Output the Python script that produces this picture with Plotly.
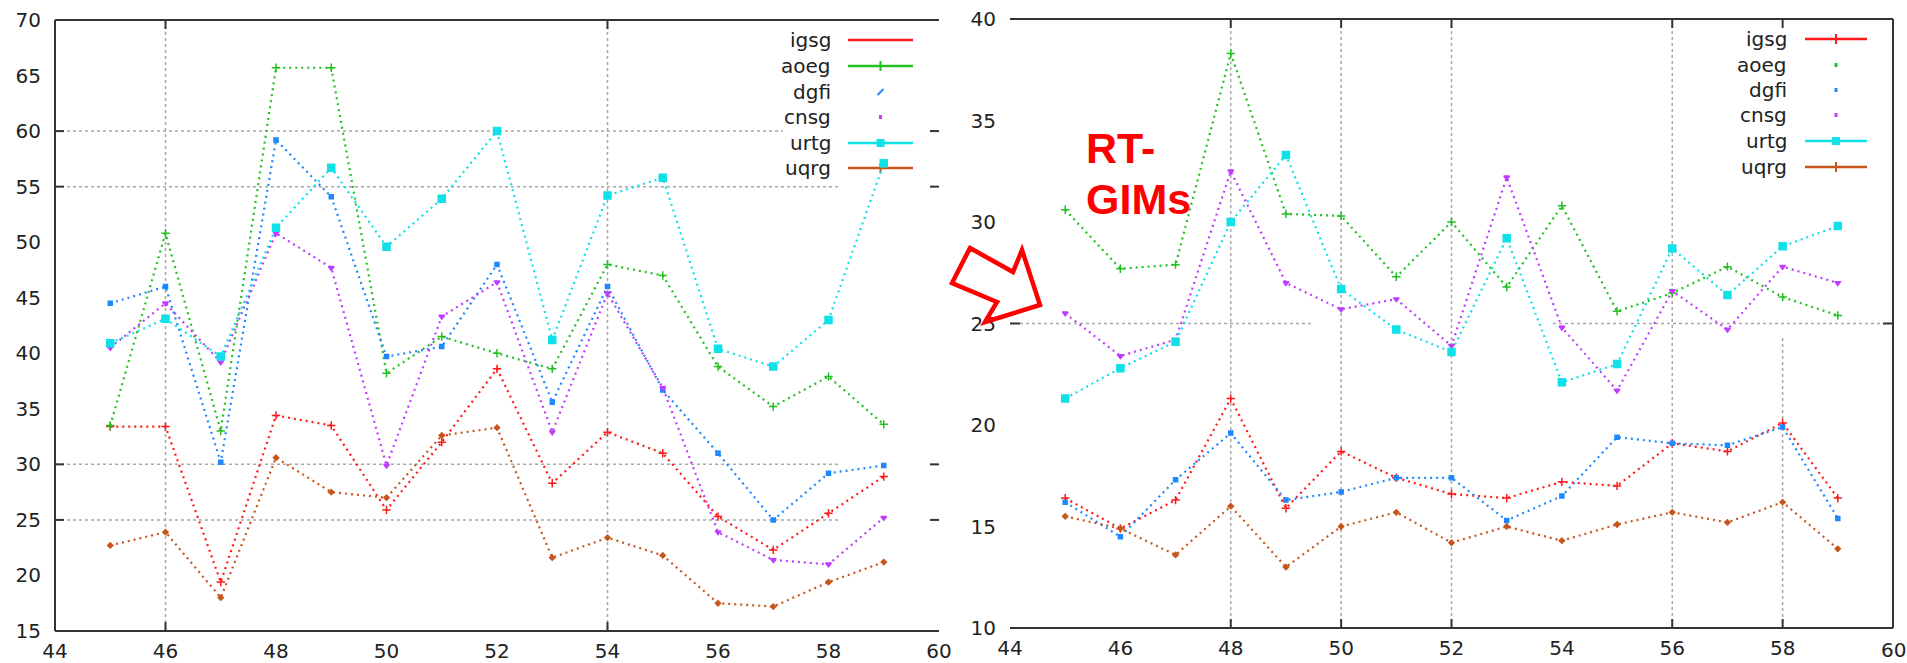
import plotly.graph_objects as go

W, H = 1907, 663

# ---------------- data ----------------
days = [45, 46, 47, 48, 49, 50, 51, 52, 53, 54, 55, 56, 57, 58, 59]
series_names = ["igsg", "aoeg", "dgfi", "cnsg", "urtg", "uqrg"]

# left panel
left_igsg = [33.4, 33.4, 19.4, 34.4, 33.5, 25.9, 32.0, 38.6, 28.3, 32.9, 31.0, 25.3, 22.3, 25.6, 28.9]
left_aoeg = [33.5, 50.8, 33.0, 65.7, 65.7, 38.2, 41.5, 40.0, 38.6, 48.0, 47.0, 38.8, 35.2, 37.9, 33.6]
left_dgfi = [44.5, 46.0, 30.2, 59.2, 54.1, 39.7, 40.6, 48.0, 35.6, 46.0, 36.7, 31.0, 25.0, 29.2, 29.9]
left_cnsg = [40.5, 44.5, 39.2, 50.8, 47.7, 29.9, 43.3, 46.4, 32.9, 45.4, 36.9, 23.9, 21.4, 21.0, 25.2]
left_urtg = [40.9, 43.1, 39.7, 51.3, 56.7, 49.6, 53.9, 60.0, 41.2, 54.2, 55.8, 40.4, 38.8, 43.0, 57.1]
left_uqrg = [22.7, 23.9, 18.0, 30.6, 27.5, 27.0, 32.6, 33.3, 21.6, 23.4, 21.8, 17.5, 17.2, 19.4, 21.2]

# right panel (RT-GIMs)
right_igsg = [16.4, 14.9, 16.3, 21.3, 15.9, 18.7, 17.4, 16.6, 16.4, 17.2, 17.0, 19.1, 18.7, 20.1, 16.4]
right_aoeg = [30.6, 27.7, 27.9, 38.3, 30.4, 30.3, 27.3, 30.0, 26.8, 30.8, 25.6, 26.5, 27.8, 26.3, 25.4]
right_dgfi = [16.2, 14.5, 17.3, 19.6, 16.3, 16.7, 17.4, 17.4, 15.3, 16.5, 19.4, 19.1, 19.0, 19.9, 15.4]
right_cnsg = [25.5, 23.4, 24.2, 32.5, 27.0, 25.7, 26.2, 23.9, 32.2, 24.8, 21.7, 26.6, 24.7, 27.8, 27.0]
right_urtg = [21.3, 22.8, 24.1, 30.0, 33.3, 26.7, 24.7, 23.6, 29.2, 22.1, 23.0, 28.7, 26.4, 28.8, 29.8]
right_uqrg = [15.5, 14.9, 13.6, 16.0, 13.0, 15.0, 15.7, 14.2, 15.0, 14.3, 15.1, 15.7, 15.2, 16.2, 13.9]

x_ticks = [44, 46, 48, 50, 52, 54, 56, 58, 60]
left_y_ticks = [15, 20, 25, 30, 35, 40, 45, 50, 55, 60, 65, 70]
right_y_ticks = [10, 15, 20, 25, 30, 35, 40]
annotation_text = ["RT-", "GIMs"]

# ---------------- styles ----------------
colors = {
    "igsg": "#ff1a1a",
    "aoeg": "#22c022",
    "dgfi": "#2088ff",
    "cnsg": "#c03cff",
    "urtg": "#10e0e8",
    "uqrg": "#c8561c",
}
symbols = {
    "igsg": "cross-thin",
    "aoeg": "cross-thin",
    "dgfi": "square",
    "cnsg": "triangle-down",
    "urtg": "square",
    "uqrg": "diamond",
}
msize = {"igsg": 6, "aoeg": 6, "dgfi": 4, "cnsg": 5, "urtg": 7, "uqrg": 4}


def px(x):
    return x / W


def py(y):
    return 1 - y / H


fig = go.Figure()

left_data = [left_igsg, left_aoeg, left_dgfi, left_cnsg, left_urtg, left_uqrg]
right_data = [right_igsg, right_aoeg, right_dgfi, right_cnsg, right_urtg, right_uqrg]

for name, vals in zip(series_names, left_data):
    fig.add_trace(go.Scatter(
        x=days, y=vals, mode="lines+markers", name=name, showlegend=False,
        xaxis="x", yaxis="y",
        line=dict(color=colors[name], width=2.2, dash="2px,4px"),
        marker=dict(symbol=symbols[name], size=msize[name], color=colors[name],
                    line=dict(color=colors[name], width=1.5)),
    ))
for name, vals in zip(series_names, right_data):
    fig.add_trace(go.Scatter(
        x=days, y=vals, mode="lines+markers", name=name, showlegend=False,
        xaxis="x2", yaxis="y2",
        line=dict(color=colors[name], width=2.2, dash="2px,4px"),
        marker=dict(symbol=symbols[name], size=msize[name], color=colors[name],
                    line=dict(color=colors[name], width=1.5)),
    ))

tickfont = dict(family="DejaVu Sans", size=20, color="#222222")
x_axis_common = dict(showgrid=False, zeroline=False, showline=False, ticks="",
                     tickfont=tickfont, ticklabelstandoff=6, automargin=False)
y_axis_common = dict(showgrid=False, zeroline=False, showline=False, ticks="",
                     tickfont=tickfont, ticklabelstandoff=13, automargin=False)

shapes = []
annotations = []
GRID = dict(color="#a8a8a8", width=1.5, dash="dot")
AX = dict(color="#333333", width=2)


def seg(x0, y0, x1, y1, line):
    shapes.append(dict(type="line", xref="paper", yref="paper",
                       x0=px(x0), y0=py(y0), x1=px(x1), y1=py(y1), line=line, layer="below"))


# ---- left panel frame / grid ----
L_x0, L_x1, L_top, L_bot = 55, 939, 20, 631
seg(L_x0, L_top, L_x1, L_top, AX)
seg(L_x0, L_bot, L_x1, L_bot, AX)
seg(L_x0, L_top, L_x0, L_bot, AX)


def ly(v):
    return L_top + (70 - v) * (L_bot - L_top) / 55.0


def lx(v):
    return L_x0 + (v - 44) * (L_x1 - L_x0) / 16.0


for gx in [46, 54]:
    seg(lx(gx), L_top, lx(gx), L_bot, GRID)
    seg(lx(gx), L_bot, lx(gx), L_bot - 9, AX)
    seg(lx(gx), L_top, lx(gx), L_top + 9, AX)
seg(L_x0, ly(60), 783, ly(60), GRID)
for gv in [55, 30, 25]:
    seg(L_x0, ly(gv), 838, ly(gv), GRID)
for gv in [60, 55, 30, 25]:
    seg(L_x0, ly(gv), L_x0 + 9, ly(gv), AX)
    seg(L_x1 - 9, ly(gv), L_x1, ly(gv), AX)

# ---- right panel frame / grid ----
R_x0, R_x1, R_top, R_bot = 1010, 1893, 19, 628
seg(R_x0, R_top, R_x1, R_top, AX)
seg(R_x0, R_bot, R_x1, R_bot, AX)
seg(R_x1, R_top, R_x1, R_bot, AX)


def ry(v):
    return R_top + (40 - v) * (R_bot - R_top) / 30.0


def rx(v):
    return R_x0 + (v - 44) * (R_x1 - R_x0) / 16.0


for gx in [48, 50, 52, 56]:
    seg(rx(gx), R_top, rx(gx), R_bot, GRID)
seg(rx(58), 338, rx(58), R_bot, GRID)
for gx in [48, 50, 52, 56, 58]:
    seg(rx(gx), R_bot, rx(gx), R_bot - 9, AX)
    seg(rx(gx), R_top, rx(gx), R_top + 9, AX)
seg(R_x0 + 10, ry(25), 1313, ry(25), GRID)
seg(1553, ry(25), R_x1 - 10, ry(25), GRID)
seg(R_x0, ry(25), R_x0 + 10, ry(25), AX)
seg(R_x1 - 10, ry(25), R_x1, ry(25), AX)

# last x label of the right panel sits against the page edge
annotations.append(dict(xref="paper", yref="paper", x=1.0, y=0.0, xanchor="right",
                        yanchor="bottom", text=str(x_ticks[-1]), showarrow=False,
                        font=tickfont, borderpad=0))

# ---- custom legends ----
legfont = dict(family="DejaVu Sans", size=20, color="#222222")


def legend(text_right, s_x0, s_x1, ys, samples):
    for name, yy, kind in zip(series_names, ys, samples):
        annotations.append(dict(xref="paper", yref="paper", x=px(text_right), y=py(yy),
                                xanchor="right", yanchor="middle", text=name,
                                showarrow=False, font=legfont))
        c = colors[name]
        mid = (s_x0 + s_x1) / 2
        if kind in ("line", "line+", "linesq"):
            seg(s_x0, yy, s_x1, yy, dict(color=c, width=2.5))
        if kind == "line+":
            seg(mid, yy - 5, mid, yy + 5, dict(color=c, width=2))
        if kind == "linesq":
            shapes.append(dict(type="rect", xref="paper", yref="paper",
                               x0=px(mid - 4), x1=px(mid + 4), y0=py(yy - 4), y1=py(yy + 4),
                               fillcolor=c, line=dict(width=0)))
        if kind == "slash":
            seg(mid - 3, yy + 3, mid + 3, yy - 3, dict(color=c, width=2))
        if kind == "dot":
            shapes.append(dict(type="rect", xref="paper", yref="paper",
                               x0=px(mid - 1.5), x1=px(mid + 1.5), y0=py(yy - 2), y1=py(yy + 2),
                               fillcolor=c, line=dict(width=0)))


legend(833, 848, 913, [40, 66, 92, 117, 143, 168],
       ["line", "line+", "slash", "dot", "linesq", "line+"])
legend(1789, 1805, 1867, [39, 65, 90, 115, 141, 167],
       ["line+", "dot", "dot", "dot", "linesq", "line+"])

# ---- RT-GIMs label and arrow ----
annotations.append(dict(xref="paper", yref="paper", x=px(1084), y=py(148), xanchor="left",
                        yanchor="middle", text="<b>%s</b>" % annotation_text[0], showarrow=False,
                        font=dict(family="Liberation Sans", size=43, color="#ff0000")))
annotations.append(dict(xref="paper", yref="paper", x=px(1084), y=py(199), xanchor="left",
                        yanchor="middle", text="<b>%s</b>" % annotation_text[1], showarrow=False,
                        font=dict(family="Liberation Sans", size=43, color="#ff0000")))

arrow_px = [(970, 248), (1013, 272), (1022, 250), (1040, 305), (985, 322), (997, 302), (952, 283)]
path = "M " + " L ".join("%.5f,%.5f" % (px(a), py(b)) for a, b in arrow_px) + " Z"
shapes.append(dict(type="path", xref="paper", yref="paper", path=path,
                   line=dict(color="#ff0000", width=4.5), fillcolor="rgba(0,0,0,0)", layer="above"))

fig.update_layout(
    width=W, height=H,
    margin=dict(l=0, r=0, t=0, b=0, autoexpand=False),
    paper_bgcolor="white", plot_bgcolor="white",
    xaxis=dict(domain=[px(L_x0), px(L_x1)], range=[44, 60], tickvals=x_ticks, anchor="y", **x_axis_common),
    yaxis=dict(domain=[py(L_bot), py(L_top)], range=[15, 70], tickvals=left_y_ticks, anchor="x", **y_axis_common),
    xaxis2=dict(domain=[px(R_x0), px(R_x1)], range=[44, 60], tickvals=x_ticks[:-1], anchor="y2", **x_axis_common),
    yaxis2=dict(domain=[py(R_bot), py(R_top)], range=[10, 40], tickvals=right_y_ticks, anchor="x2", **y_axis_common),
    shapes=shapes,
    annotations=annotations,
    showlegend=False,
)

fig.write_html("out.html",
               config={"displayModeBar": False},
               post_script="document.body.style.margin='0px';document.body.style.overflow='hidden';")
